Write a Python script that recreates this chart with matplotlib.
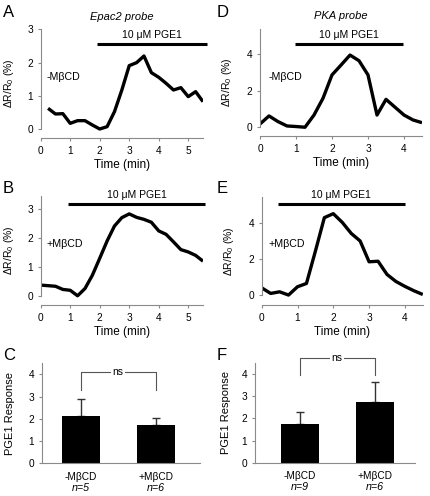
import matplotlib
matplotlib.use("Agg")
import matplotlib.pyplot as plt

plt.rcParams['font.family'] = ['Liberation Sans', 'DejaVu Sans']
plt.rcParams['mathtext.fontset'] = 'custom'
plt.rcParams['mathtext.rm'] = 'Liberation Sans'
plt.rcParams['mathtext.it'] = 'Liberation Sans:italic'
plt.rcParams['mathtext.default'] = 'regular'

# time courses (min) and dR/R0 (%)
epac_ctrl_t = [0.25, 0.5, 0.75, 1.0, 1.25, 1.5, 1.75, 2.0, 2.25, 2.5, 2.75,
               3.0, 3.25, 3.5, 3.75, 4.0, 4.25, 4.5, 4.75, 5.0, 5.25, 5.5]
epac_ctrl = [0.63, 0.46, 0.47, 0.18, 0.26, 0.26, 0.13, 0.01, 0.08, 0.53, 1.18,
             1.91, 2.0, 2.2, 1.7, 1.56, 1.38, 1.18, 1.25, 0.98, 1.13, 0.83]

epac_mbcd_t = [0.0, 0.25, 0.5, 0.75, 1.0, 1.25, 1.5, 1.75, 2.0, 2.25, 2.5, 2.75,
               3.0, 3.25, 3.5, 3.75, 4.0, 4.25, 4.5, 4.75, 5.0, 5.25, 5.5]
epac_mbcd = [0.37, 0.35, 0.33, 0.22, 0.19, 0.0, 0.25, 0.71, 1.3, 1.9, 2.42, 2.71,
             2.84, 2.72, 2.65, 2.55, 2.25, 2.13, 1.87, 1.6, 1.52, 1.4, 1.2]

pka_t = [0.0, 0.25, 0.5, 0.75, 1.0, 1.25, 1.5, 1.75, 2.0, 2.25,
         2.5, 2.75, 3.0, 3.25, 3.5, 3.75, 4.0, 4.25, 4.5]
pka_ctrl = [0.18, 0.62, 0.31, 0.07, 0.04, 0.0, 0.67, 1.59, 2.87, 3.41,
            3.96, 3.65, 2.87, 0.67, 1.53, 1.1, 0.67, 0.4, 0.25]
pka_mbcd = [0.4, 0.09, 0.18, 0.0, 0.46, 0.64, 2.43, 4.28, 4.5, 4.02,
            3.41, 2.99, 1.84, 1.87, 1.14, 0.75, 0.48, 0.24, 0.03]

# PGE1 application (start, end) in min
pge1_A = (1.9, 5.63)
pge1_B = (0.94, 5.57)
pge1_D = (0.97, 3.98)
pge1_E = (0.45, 4.0)

# summary bars
groups = ['-M\u03b2CD', '+M\u03b2CD']
epac_resp = [2.13, 1.72]
epac_err = [0.76, 0.30]
epac_n = ['n=5', 'n=6']
pka_resp = [1.74, 2.73]
pka_err = [0.54, 0.91]
pka_n = ['n=9', 'n=6']

W, H = 430, 496
fig = plt.figure(figsize=(W / 100, H / 100), dpi=100)
GRAY = '#8a8a8a'


def px_axes(l, t, r, b):
    return fig.add_axes([l / W, 1 - b / H, (r - l) / W, (b - t) / H])


def style(ax, top, xtick=True):
    for s in ['top', 'right']:
        ax.spines[s].set_visible(False)
    for s in ['left', 'bottom']:
        ax.spines[s].set_color(GRAY)
        ax.spines[s].set_linewidth(0.8)
    ax.spines['left'].set_bounds(0, top)
    ax.tick_params(colors=GRAY, labelcolor='black', labelsize=7.3, length=2.5, width=0.8, pad=3)
    if not xtick:
        ax.tick_params(axis='x', length=0, pad=6)


def trace(ax, t, y, stim, stim_y, xlim, ylim, yticks, xticks, note, note_xy, lab_x):
    ax.plot(t, y, color='black', lw=2.4, solid_joinstyle='round', solid_capstyle='butt')
    ax.plot(stim, [stim_y, stim_y], color='black', lw=2.2, clip_on=False, solid_capstyle='butt')
    ax.annotate('10 \u03bcM PGE1', ((stim[0] + stim[1]) / 2, stim_y), xytext=(0, 3),
                textcoords='offset points', ha='center', va='bottom', fontsize=7.5,
                annotation_clip=False)
    ax.text(note_xy[0], note_xy[1], note, fontsize=7.7, va='center', ha='left')
    ax.set_xlim(*xlim)
    ax.set_ylim(*ylim)
    ax.set_yticks(yticks)
    ax.set_xticks(xticks)
    style(ax, ylim[1])
    ax.set_xlabel('Time (min)', fontsize=8.5, labelpad=2.5)
    ax.set_ylabel('\u0394R/R$_0$ (%)', fontsize=7.5)
    ax.yaxis.set_label_coords(lab_x, 0.5)


axA = px_axes(40.7, 29.3, 203, 138)
trace(axA, epac_ctrl_t, epac_ctrl, pge1_A, 2.56, (0, 5.5), (-0.26, 3.0),
      [0, 1, 2, 3], [0, 1, 2, 3, 4, 5], '-M\u03b2CD', (0.2, 1.57), -0.15)
axA.set_title('Epac2 probe', fontsize=8, style='italic', pad=7)

axB = px_axes(40.7, 196.3, 203, 305)
trace(axB, epac_mbcd_t, epac_mbcd, pge1_B, 3.17, (0, 5.5), (-0.32, 3.45),
      [0, 1, 2, 3], [0, 1, 2, 3, 4, 5], '+M\u03b2CD', (0.2, 1.8), -0.15)

axD = px_axes(260, 28.8, 422, 136)
trace(axD, pka_t, pka_ctrl, pge1_D, 4.55, (0, 4.5), (-0.48, 5.4),
      [0, 2, 4], [0, 1, 2, 3, 4], '-M\u03b2CD', (0.25, 2.74), -0.16)
axD.set_title('PKA probe', fontsize=8, style='italic', pad=7)

axE = px_axes(261.7, 196.5, 422.8, 305)
trace(axE, pka_t, pka_mbcd, pge1_E, 5.02, (0, 4.5), (-0.55, 5.45),
      [0, 2, 4], [0, 1, 2, 3, 4], '+M\u03b2CD', (0.18, 2.82), -0.16)


def bars(ax, vals, errs, ns, xlim, br_top, br_low, lab_x):
    x = [0, 1]
    ax.bar(x, vals, width=0.51, color='black', zorder=2)
    ax.errorbar(x, vals, yerr=[[0, 0], errs], fmt='none', ecolor='#333333',
                elinewidth=1, capsize=3, capthick=1, zorder=1)
    ax.plot([0, 0, 1, 1], [br_low, br_top, br_top, br_low], color='#555555', lw=0.8,
            clip_on=False)
    ax.text(0.5, br_top, 'ns', ha='center', va='center', fontsize=7.5,
            bbox=dict(facecolor='white', edgecolor='none', pad=1), clip_on=False)
    ax.set_xlim(*xlim)
    ax.set_ylim(0, 4.5)
    ax.set_yticks([0, 1, 2, 3, 4])
    ax.set_xticks(x)
    ax.set_xticklabels(groups, fontsize=7.7)
    style(ax, 4.5, xtick=False)
    for xi, n in zip(x, ns):
        ax.annotate(n, (xi, 0), xytext=(0, -17.5), textcoords='offset points',
                    ha='center', va='center', fontsize=7.7, style='italic',
                    annotation_clip=False)
    ax.set_ylabel('PGE1 Response', fontsize=8)
    ax.yaxis.set_label_coords(lab_x, 0.5)


axC = px_axes(41.7, 363.2, 200, 463.3)
bars(axC, epac_resp, epac_err, epac_n, (-0.52, 1.59), 4.12, 3.3, -0.17)

axF = px_axes(255, 363.2, 415, 462.7)
bars(axF, pka_resp, pka_err, pka_n, (-0.6, 1.54), 4.72, 3.97, -0.15)

for letter, x, y in [('A', 3, 5), ('B', 3, 181), ('C', 3, 348),
                     ('D', 217, 5), ('E', 217, 181), ('F', 217, 348)]:
    fig.text(x / W, 1 - y / H, letter, fontsize=12, va='top', ha='left')

fig.savefig('out.png', dpi=100)
